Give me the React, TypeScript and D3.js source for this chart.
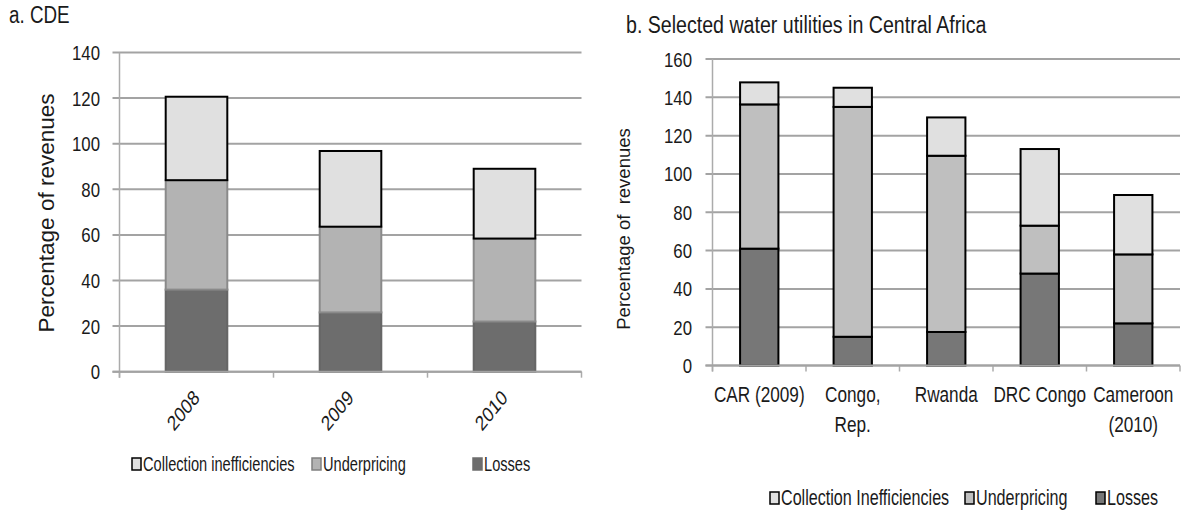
import React, { useEffect, useRef } from 'react';
import * as d3 from 'd3';

// panel a: CDE
const cdeYears = ['2008', '2009', '2010'];
const cdeLosses = [36, 26, 22];
const cdeUnderpricing = [48, 37.6, 36.4];
const cdeCollection = [36.6, 33.2, 30.6];
const cdeTicks = [0, 20, 40, 60, 80, 100, 120, 140];

// panel b: selected utilities
const utilLabels = [['CAR (2009)'], ['Congo,', 'Rep.'], ['Rwanda'], ['DRC Congo'], ['Cameroon', '(2010)']];
const utilLosses = [61, 15, 17.5, 48, 22];
const utilUnderpricing = [75.3, 120, 92, 25, 36];
const utilCollection = [11.5, 10, 20, 40, 31];
const utilTicks = [0, 20, 40, 60, 80, 100, 120, 140, 160];

const keys = ['losses', 'underpricing', 'collection'];
const FONT = '"Liberation Sans", Arial, sans-serif';
const SX = 0.8; // narrow look of the source lettering

const App = () => {
  const ref = useRef<SVGSVGElement | null>(null);

  useEffect(() => {
    if (!ref.current) return;
    const svg = d3.select(ref.current);
    svg.selectAll('*').remove();

    const text = (g: any, x: number, y: number, str: string, size: number, anchor = 'start', rot = 0, sx = SX) =>
      g.append('text')
        .attr('transform', `translate(${x},${y}) scale(${sx},1)` + (rot ? ` rotate(${rot})` : ''))
        .attr('text-anchor', anchor)
        .attr('font-size', size)
        .attr('font-family', FONT)
        .attr('fill', '#1a1a1a')
        .text(str);

    const panel = (opts: any) => {
      const { x0, x1, y0, y1, max, ticks, cats, losses, under, coll, colors, strokes, pad } = opts;
      const g = svg.append('g');
      const x = d3.scaleBand().domain(cats.map((_: any, i: number) => String(i))).range([x0, x1])
        .paddingInner(pad).paddingOuter(pad / 2);
      const y = d3.scaleLinear().domain([0, max]).range([y0, y1]);

      // gridlines + y tick labels
      ticks.forEach((t: number) => {
        g.append('line').attr('x1', x0 - 7).attr('x2', x1).attr('y1', y(t)).attr('y2', y(t))
          .attr('stroke', '#a3a3a3').attr('stroke-width', 2);
        text(g, opts.labelRight, y(t) + 7.5, String(t), 21, 'end');
      });
      // y axis
      g.append('line').attr('x1', x0).attr('x2', x0).attr('y1', y(max)).attr('y2', y0 + 6)
        .attr('stroke', '#ababab').attr('stroke-width', 1.5);
      // x ticks
      const step = x.step();
      d3.range(cats.length + 1).forEach(i => {
        const xx = x0 + i * step;
        g.append('line').attr('x1', xx).attr('x2', xx).attr('y1', y0).attr('y2', y0 + 6)
          .attr('stroke', '#ababab').attr('stroke-width', 1.5);
      });

      const rows = cats.map((_: any, i: number) => ({ i: String(i), losses: losses[i], underpricing: under[i], collection: coll[i] }));
      const series = d3.stack<any>().keys(keys)(rows);
      series.forEach((s, si) => {
        g.selectAll(null).data(s).enter().append('rect')
          .attr('x', (d: any) => x(d.data.i)!)
          .attr('width', x.bandwidth())
          .attr('y', (d: any) => y(d[1]))
          .attr('height', (d: any) => y(d[0]) - y(d[1]))
          .attr('fill', colors[si])
          .attr('stroke', strokes[si])
          .attr('stroke-width', 2);
      });
      // axis line on top
      g.append('line').attr('x1', x0 - 7).attr('x2', x1).attr('y1', y0).attr('y2', y0)
        .attr('stroke', '#a3a3a3').attr('stroke-width', 2);
      return { g, x, y };
    };

    // ---- panel a ----
    text(svg, 9, 23, 'a. CDE', 23.5);
    const a = panel({
      x0: 119.5, x1: 581.5, y0: 371.7, y1: 52.5, max: 140, ticks: cdeTicks, cats: cdeYears,
      losses: cdeLosses, under: cdeUnderpricing, coll: cdeCollection, pad: 0.6, labelRight: 100,
      colors: ['#6d6d6d', '#b3b3b3', '#e0e0e0'], strokes: ['#666666', '#8a8a8a', '#000000'],
    });
    cdeYears.forEach((yr, i) => {
      const cx = a.x(String(i))! + a.x.bandwidth() / 2;
      text(svg, cx + 4, 399, yr, 21, 'end', -45);
    });
    text(svg, 54, 213, 'Percentage of revenues', 22.5, 'middle', -90, 0.95);

    // ---- panel b ----
    text(svg, 626, 33, 'b. Selected water utilities in Central Africa', 24.5);
    const b = panel({
      x0: 712.5, x1: 1180, y0: 365.5, y1: 59, max: 160, ticks: utilTicks, cats: utilLabels,
      losses: utilLosses, under: utilUnderpricing, coll: utilCollection, pad: 0.59, labelRight: 692,
      colors: ['#777777', '#bfbfbf', '#e0e0e0'], strokes: ['#000000', '#000000', '#000000'],
    });
    utilLabels.forEach((lines, i) => {
      const cx = b.x(String(i))! + b.x.bandwidth() / 2;
      lines.forEach((ln, j) => text(svg, cx, 402 + j * 30, ln, 21.5, 'middle'));
    });
    text(svg, 630, 229, 'Percentage of  revenues', 18.5, 'middle', -90, 0.95).attr('xml:space', 'preserve')
      .style('white-space', 'pre');

    // ---- legends ----
    const legend = (items: any[], y: number, size: number) => {
      items.forEach(it => {
        svg.append('rect').attr('x', it.x).attr('y', y - 12).attr('width', 9).attr('height', 12)
          .attr('fill', it.fill).attr('stroke', it.stroke).attr('stroke-width', 1.5);
        text(svg, it.x + 11, y + 1, it.label, size, 'start', 0, 0.75);
      });
    };
    legend([
      { x: 132, label: 'Collection inefficiencies', fill: '#e0e0e0', stroke: '#000' },
      { x: 312, label: 'Underpricing', fill: '#b3b3b3', stroke: '#808080' },
      { x: 473, label: 'Losses', fill: '#6d6d6d', stroke: '#6d6d6d' },
    ], 470, 19.5);
    legend([
      { x: 770, label: 'Collection Inefficiencies', fill: '#e0e0e0', stroke: '#000' },
      { x: 965, label: 'Underpricing', fill: '#bfbfbf', stroke: '#000' },
      { x: 1096, label: 'Losses', fill: '#777777', stroke: '#000' },
    ], 504, 21.5);
  }, []);

  return (
    <svg ref={ref} width={1189} height={515}
      style={{ position: 'absolute', left: 0, top: 0, background: '#fff' }} />
  );
};

export default App;
